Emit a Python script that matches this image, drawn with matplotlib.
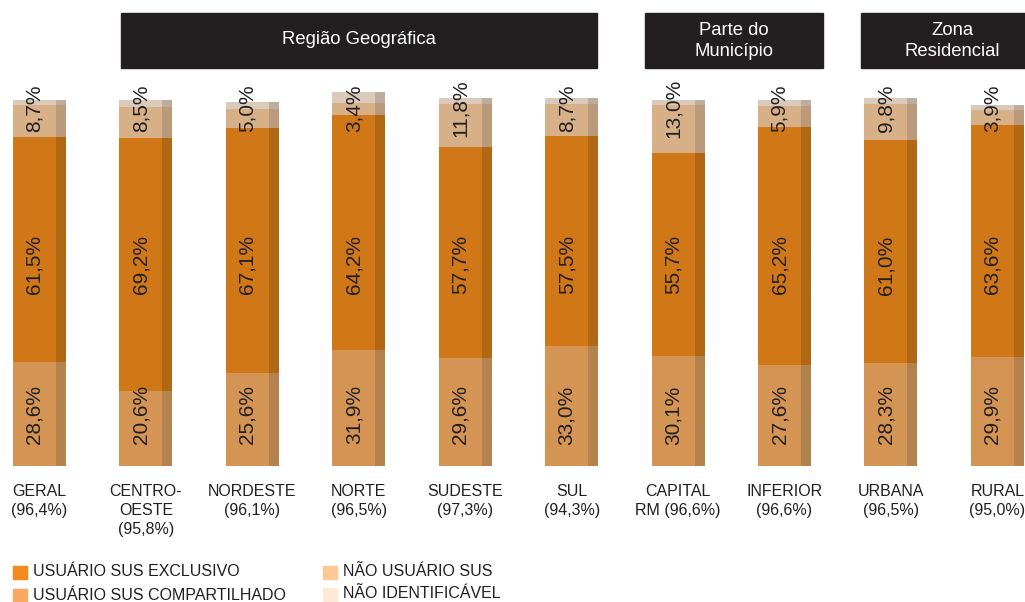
import matplotlib
matplotlib.use("Agg")
import matplotlib.pyplot as plt
from matplotlib.patches import Rectangle
import numpy as np

# ---------------- data ----------------
categories = ["GERAL\n(96,4%)", "CENTRO-\nOESTE\n(95,8%)", "NORDESTE\n(96,1%)", "NORTE\n(96,5%)",
              "SUDESTE\n(97,3%)", "SUL\n(94,3%)", "CAPITAL\nRM (96,6%)", "INFERIOR\n(96,6%)",
              "URBANA\n(96,5%)", "RURAL\n(95,0%)"]
compartilhado = [28.6, 20.6, 25.6, 31.9, 29.6, 33.0, 30.1, 27.6, 28.3, 29.9]
exclusivo = [61.5, 69.2, 67.1, 64.2, 57.7, 57.5, 55.7, 65.2, 61.0, 63.6]
nao_usuario = [8.7, 8.5, 5.0, 3.4, 11.8, 8.7, 13.0, 5.9, 9.8, 3.9]
nao_identificavel = [1.5, 1.9, 2.0, 3.0, 1.8, 1.7, 1.5, 1.6, 1.7, 1.5]
groups = ["Região Geográfica", "Parte do\nMunicípio", "Zona\nResidencial"]
legend_labels = ["USUÁRIO SUS EXCLUSIVO", "USUÁRIO SUS COMPARTILHADO",
                 "NÃO USUÁRIO SUS", "NÃO IDENTIFICÁVEL"]

# ---------------- style ----------------
FONT = ["Liberation Sans", "DejaVu Sans"]
plt.rcParams["font.family"] = FONT
TXT = "#231F20"
face_cols = ["#D49454", "#D07818", "#D8B088", "#D9CABB"]
side_cols = ["#B4824C", "#B06814", "#BA9A7A", "#BCAE9F"]
legend_cols = ["#F28A1E", "#F9A862", "#FDCA96", "#FEE8D6"]

W, H = 1025, 602
fig = plt.figure(figsize=(W / 100, H / 100), dpi=100)
ax = fig.add_axes([0, 0, 1, 1])
ax.axis("off")
ax.set_xlim(-0.371, 9.259)
ax.set_ylim(-37.26, 127.67)

x = np.arange(len(categories))
face_w, side_w = 0.404, 0.094
left = x - (face_w + side_w) / 2

series = [compartilhado, exclusivo, nao_usuario, nao_identificavel]
bottom = np.zeros(len(categories))
for vals, fc, sc in zip(series, face_cols, side_cols):
    vals = np.array(vals)
    ax.bar(left, vals, width=face_w, bottom=bottom, align="edge", color=fc, linewidth=0)
    ax.bar(left + face_w, vals, width=side_w, bottom=bottom, align="edge", color=sc, linewidth=0)
    bottom = bottom + vals

def fmt(v):
    return f"{v:.1f}%".replace(".", ",")

label_rows = [(compartilhado, 14.0), (exclusivo, 55.1), (nao_usuario, 98.0)]
for vals, ypos in label_rows:
    for xi, v in zip(left + face_w / 2, vals):
        ax.text(xi, ypos, fmt(v), rotation=90, ha="center", va="center",
                fontsize=15, color=TXT)

for xi, lab in zip(x, categories):
    ax.text(xi, -5.0, lab, ha="center", va="top", fontsize=11.5, color=TXT,
            multialignment="center", linespacing=1.33)

# ---------------- header boxes ----------------
def fx(px):
    return px / W

def fy(py):
    return 1 - py / H

boxes = [(121, 597, 359, 39), (645, 823, 734, 41), (861, 1045, 952, 41)]
for (x0, x1, xc, yc), g in zip(boxes, groups):
    fig.patches.append(Rectangle((fx(x0), fy(68)), fx(x1) - fx(x0), fy(13) - fy(68),
                                 transform=fig.transFigure, color="#231F20", zorder=0))
    fig.text(fx(xc), fy(yc), g, ha="center", va="center", color="white",
             fontsize=13.3, linespacing=1.32)

# ---------------- legend ----------------
leg_pos = [(13, 572), (13, 595), (323, 572), (323, 594)]
for (lx, ly), lab, col in zip(leg_pos, legend_labels, legend_cols):
    fig.patches.append(Rectangle((fx(lx), fy(ly + 7)), fx(14), 13 / H,
                                 transform=fig.transFigure, color=col))
    fig.text(fx(lx + 20), fy(ly), lab, ha="left", va="center", fontsize=11.5, color=TXT)

fig.savefig("out.png", dpi=100)
